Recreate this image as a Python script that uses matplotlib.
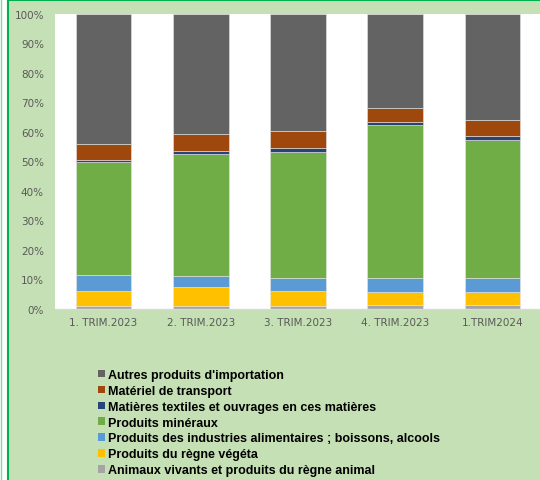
import matplotlib
matplotlib.use("Agg")
import matplotlib.pyplot as plt
import numpy as np
from matplotlib.patches import Rectangle, Patch
from matplotlib.lines import Line2D

categories = ["1. TRIM.2023", "2. TRIM.2023", "3. TRIM.2023", "4. TRIM.2023", "1.TRIM2024"]

# parts in %, bottom -> top
animaux   = [1.1, 1.1, 1.1, 1.4, 1.5]
vegetal   = [5.1, 6.2, 5.1, 4.5, 4.3]
alim      = [5.3, 3.8, 4.3, 4.5, 4.6]
mineraux  = [38.4, 41.3, 42.8, 52.1, 47.0]
textiles  = [0.6, 1.0, 1.4, 0.8, 1.1]
transport = [5.4, 5.8, 5.7, 4.7, 5.7]
autres    = [44.1, 40.8, 39.6, 32.0, 35.8]

series = [
    ("Animaux vivants et produits du règne animal", animaux, "#A5A5A5"),
    ("Produits du règne végéta", vegetal, "#FFC000"),
    ("Produits des industries alimentaires ; boissons, alcools", alim, "#5B9BD5"),
    ("Produits minéraux", mineraux, "#70AD47"),
    ("Matières textiles et ouvrages en ces matières", textiles, "#264478"),
    ("Matériel de transport", transport, "#9E480E"),
    ("Autres produits d'importation", autres, "#636363"),
]

W, H = 540, 481
BG = "#C5E0B4"
fig = plt.figure(figsize=(W / 100, H / 100), dpi=100, facecolor=BG)

# cadre : bande blanche à gauche + traits verts
fig.patches.append(Rectangle((0, 0), 7 / W, 1, transform=fig.transFigure,
                             facecolor="white", edgecolor="none", zorder=0))
fig.add_artist(Line2D([0.5 / W, 0.5 / W], [0, 1], color="#7FDCA0", lw=1))
fig.add_artist(Line2D([7.8 / W, 7.8 / W], [0, 1], color="#00B050", lw=1.5))
fig.add_artist(Line2D([7.8 / W, 1], [1 - 0.8 / H, 1 - 0.8 / H], color="#00B050", lw=1.5))

left, right, top, bottom = 55, 541, 15, 310
ax = fig.add_axes([left / W, 1 - bottom / H, (right - left) / W, (bottom - top) / H])
ax.set_facecolor("white")

x = np.arange(len(categories))
base = np.zeros(len(categories))
handles = []
for name, vals, col in series:
    vals = np.array(vals)
    ax.bar(x, vals, 0.57, bottom=base, color=col, edgecolor="#e6e6e6", linewidth=0.4, zorder=2)
    base += vals
    handles.append(Patch(facecolor=col, edgecolor="none", label=name))

ax.set_xlim(-0.5, 4.5)
ax.set_ylim(0, 100)
ax.set_yticks(range(0, 101, 10))
ax.set_yticklabels([f"{v}%" for v in range(0, 101, 10)])
ax.set_xticks(x)
ax.set_xticklabels(categories)
ax.tick_params(axis="both", length=0, colors="#595959", labelsize=7.5)
ax.tick_params(axis="x", pad=6)
ax.tick_params(axis="y", pad=8)
for s in ["top", "right", "left"]:
    ax.spines[s].set_visible(False)
ax.spines["bottom"].set_color("#d9d9d9")
ax.spines["bottom"].set_linewidth(1.0)

fig.legend(handles=handles[::-1], loc="upper left", bbox_to_anchor=(98 / W, 1 - 370 / H),
           frameon=False, handlelength=0.55, handleheight=0.55, handletextpad=0.25,
           labelspacing=0.31, borderaxespad=0, borderpad=0,
           prop={"family": "Liberation Sans", "weight": "bold", "size": 9})

fig.savefig("out.png", dpi=100, facecolor=BG)
